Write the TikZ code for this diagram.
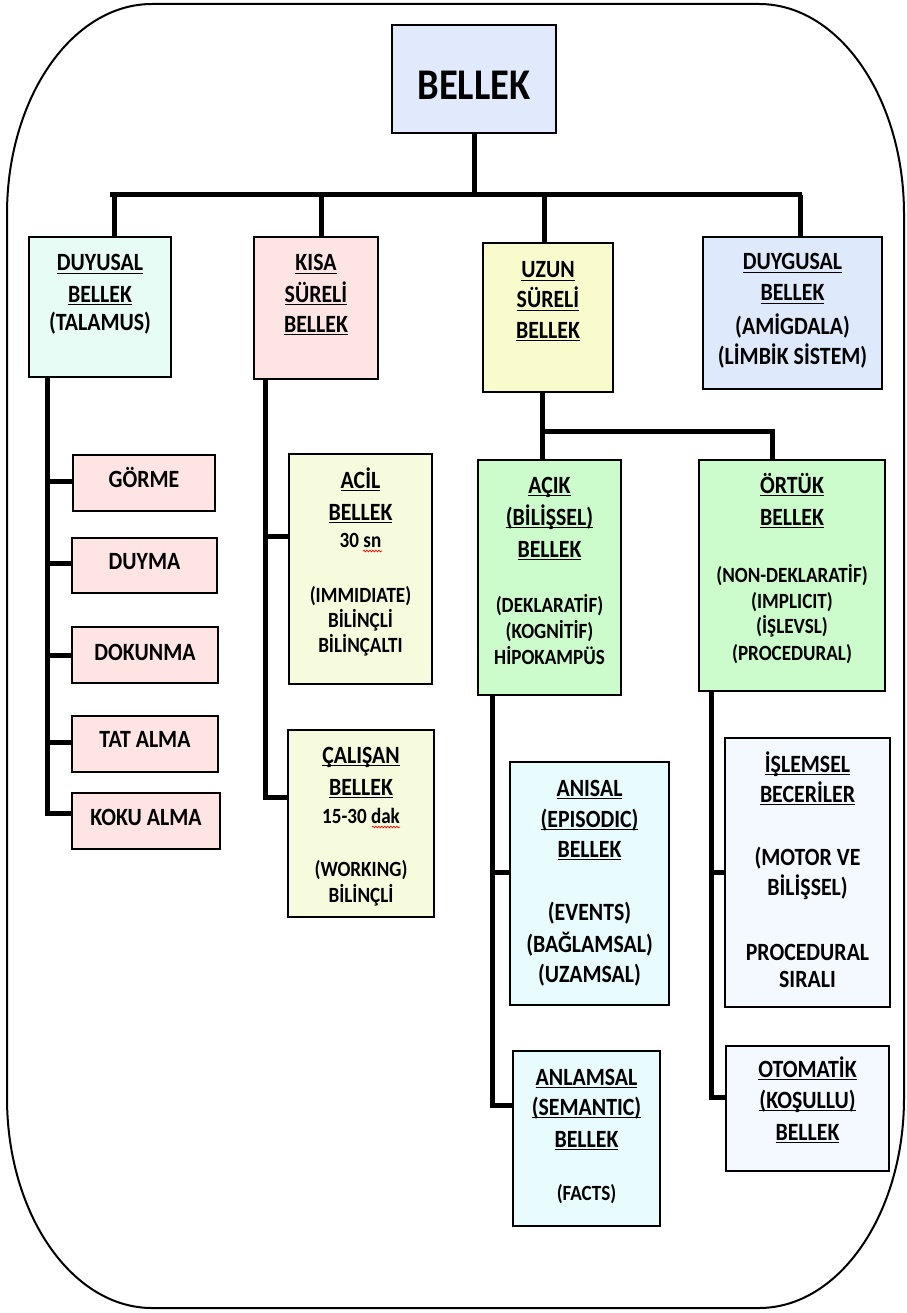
\documentclass[tikz,border=0pt]{standalone}
\usepackage{fontspec}
\setmainfont{Carlito}[FakeStretch=0.88]
\usetikzlibrary{decorations.pathmorphing}

\definecolor{cTitle}{RGB}{224,234,252}
\definecolor{cMint}{RGB}{231,252,245}
\definecolor{cPink}{RGB}{255,228,228}
\definecolor{cYel}{RGB}{250,251,205}
\definecolor{cBlue}{RGB}{222,233,251}
\definecolor{cLime}{RGB}{246,251,221}
\definecolor{cGreen}{RGB}{204,252,204}
\definecolor{cCyan}{RGB}{232,251,253}
\definecolor{cPale}{RGB}{244,249,255}

% font sizes
\newcommand\fhd{\fontsize{24.8}{29}\selectfont}
\newcommand\fsm{\fontsize{21.7}{25}\selectfont}
\newcommand\fttl{\fontsize{43.8}{50}\selectfont}

% underline sitting just below the baseline
\newcommand\ul[1]{\leavevmode\setbox0=\hbox{#1}\rlap{\rule[-3.4pt]{\wd0}{1.5pt}}\box0}

% box from corner (x1,y1) to corner (x2,y2)
\newcommand\mkbox[6]{%
  \pgfmathsetmacro\bw{#4-#2}\pgfmathsetmacro\bh{#5-#3}%
  \node[bx, fill=#6, minimum width=\bw pt, minimum height=\bh pt] (#1) at ({(#2+#4)/2},{(#3+#5)/2}) {};}

% centred text lines: name, centre x, list of text/baseline
\newcommand\txtlines[3]{\foreach \s/\yy [count=\k] in {#3} {\node[txt] (#1-\k) at (#2,\yy) {\s};}}

\begin{document}
\begin{tikzpicture}[x=1pt,y=-1pt,
  bx/.style={draw=black, line width=2.6pt, inner sep=0pt},
  conn/.style={line width=5pt},
  frame/.style={line width=2pt},
  txt/.style={anchor=base, inner sep=0pt, font=\bfseries},
]
\useasboundingbox (0,0) rectangle (906,1313);

% outer rounded frame
\draw[frame] (152,4) -- (759,4) .. controls (839,4) and (904,98) .. (904,214)
  -- (904,1098) .. controls (904,1214) and (839,1308) .. (759,1308)
  -- (152,1308) .. controls (72,1308) and (7,1214) .. (7,1098)
  -- (7,214) .. controls (7,98) and (72,4) .. (152,4) -- cycle;

% boxes
\mkbox{bellek}{392}{25}{556}{133}{cTitle}
\mkbox{duyusal}{29}{237}{171}{377}{cMint}
\mkbox{kisa}{254}{237}{378}{379}{cPink}
\mkbox{uzun}{483}{243}{613}{392}{cYel}
\mkbox{duygusal}{703}{237}{882}{389}{cBlue}
\mkbox{gorme}{73}{455}{215}{511}{cPink}
\mkbox{duyma}{72}{538}{217}{593}{cPink}
\mkbox{dokunma}{72}{627}{218}{683}{cPink}
\mkbox{tat}{72}{716}{218}{772}{cPink}
\mkbox{koku}{72}{793}{220}{849}{cPink}
\mkbox{acil}{289}{454}{432}{684}{cLime}
\mkbox{calisan}{288}{730}{434}{917}{cLime}
\mkbox{acik}{478}{460}{621}{695}{cGreen}
\mkbox{ortuk}{699}{460}{885}{691}{cGreen}
\mkbox{anisal}{510}{762}{669}{1005}{cCyan}
\mkbox{anlamsal}{513}{1051}{660}{1226}{cCyan}
\mkbox{islemsel}{725}{738}{890}{1007}{cPale}
\mkbox{otomatik}{726}{1046}{889}{1171}{cPale}

% top level tree
\coordinate (barL) at (110,195);
\coordinate (barR) at (802,195);
\coordinate (d1) at (114,195);
\coordinate (d2) at (321,195);
\coordinate (d3) at (544,195);
\coordinate (d4) at (800,195);
\draw[conn] (bellek.south) -- (bellek.south |- barL);
\draw[conn] (barL) -- (barR);
\draw[conn] (d1) -- (d1 |- duyusal.north);
\draw[conn] (d2) -- (d2 |- kisa.north);
\draw[conn] (d3) -- (d3 |- uzun.north);
\draw[conn] (d4) -- (d4 |- duygusal.north);

% senses
\coordinate (s1) at (47,0);
\draw[conn] (s1 |- duyusal.south) |- ([yshift=8pt]koku.west);
\draw[conn] ([yshift=2pt]gorme.west) -- ([yshift=2pt]gorme.west -| s1);
\draw[conn] ([yshift=2.5pt]duyma.west) -- ([yshift=2.5pt]duyma.west -| s1);
\draw[conn] (dokunma.west) -- (dokunma.west -| s1);
\draw[conn] ([yshift=2pt]tat.west) -- ([yshift=2pt]tat.west -| s1);

% short term
\coordinate (s2) at (265,0);
\draw[conn] (s2 |- kisa.south) |- ([yshift=26.5pt]calisan.west);
\draw[conn] ([yshift=33pt]acil.west) -- ([yshift=33pt]acil.west -| s2);

% long term
\coordinate (u1) at (542,431);
\coordinate (u2) at (772,431);
\draw[conn] (u1 |- uzun.south) -- (u1) -- (u2) -- (u2 |- ortuk.north);
\draw[conn] (u1) -- (u1 |- acik.north);

\coordinate (s3) at (492,0);
\draw[conn] (s3 |- acik.south) |- ([yshift=33.5pt]anlamsal.west);
\draw[conn] ([yshift=11.5pt]anisal.west) -- ([yshift=11.5pt]anisal.west -| s3);

\coordinate (s4) at (711,0);
\draw[conn] (s4 |- ortuk.south) |- ([yshift=11.5pt]otomatik.west);
\draw[conn] (islemsel.west) -- (islemsel.west -| s4);

% texts
\node[txt] (t-bellek) at (474,100) {\fttl BELLEK};
\txtlines{t-duyusal}{100}{{\fhd\ul{DUYUSAL}}/271, {\fhd\ul{BELLEK}}/302, {\fhd(TALAMUS)}/330}
\txtlines{t-kisa}{316}{{\fhd\ul{KISA}}/271, {\fhd\ul{SÜRELİ}}/302, {\fhd\ul{BELLEK}}/332}
\txtlines{t-uzun}{548}{{\fhd\ul{UZUN}}/278, {\fhd\ul{SÜRELİ}}/308, {\fhd\ul{BELLEK}}/338}
\txtlines{t-duygusal}{792.5}{{\fhd\ul{DUYGUSAL}}/270, {\fhd\ul{BELLEK}}/301, {\fhd(AMİGDALA)}/334, {\fhd(LİMBİK SİSTEM)}/364}

\node[txt] (t-gorme) at (144,487) {\fhd GÖRME};
\node[txt] (t-duyma) at (144.5,569) {\fhd DUYMA};
\node[txt] (t-dokunma) at (145,660) {\fhd DOKUNMA};
\node[txt] (t-tat) at (145,747) {\fhd TAT ALMA};
\node[txt] (t-koku) at (146,825) {\fhd KOKU ALMA};

\txtlines{t-acil}{360.5}{{\fhd\ul{ACİL}}/488, {\fhd\ul{BELLEK}}/520, {\fsm 30 sn}/547, {\fsm(IMMIDIATE)}/602, {\fsm BİLİNÇLİ}/627, {\fsm BİLİNÇALTI}/652}
\txtlines{t-calisan}{361}{{\fhd\ul{ÇALIŞAN}}/763, {\fhd\ul{BELLEK}}/795, {\fsm 15-30 dak}/823, {\fsm(WORKING)}/876, {\fsm BİLİNÇLİ}/902}

\txtlines{t-acik}{549.5}{{\fhd\ul{AÇIK}}/493, {\fhd\ul{(BİLİŞSEL)}}/525, {\fhd\ul{BELLEK}}/557, {\fsm(DEKLARATİF)}/612, {\fsm(KOGNİTİF)}/638, {\fsm HİPOKAMPÜS}/664}
\txtlines{t-ortuk}{792}{{\fhd\ul{ÖRTÜK}}/493, {\fhd\ul{BELLEK}}/525, {\fsm(NON-DEKLARATİF)}/582, {\fsm(IMPLICIT)}/608, {\fsm(İŞLEVSL)}/633, {\fsm(PROCEDURAL)}/660}

\txtlines{t-anisal}{589.5}{{\fhd\ul{ANISAL}}/796, {\fhd\ul{(EPISODIC)}}/827, {\fhd\ul{BELLEK}}/857, {\fhd(EVENTS)}/920, {\fhd(BAĞLAMSAL)}/952, {\fhd(UZAMSAL)}/982}
\txtlines{t-anlamsal}{586.5}{{\fhd\ul{ANLAMSAL}}/1085, {\fhd\ul{(SEMANTIC)}}/1115, {\fhd\ul{BELLEK}}/1147, {\fsm(FACTS)}/1200}
\txtlines{t-islemsel}{807.5}{{\fhd\ul{İŞLEMSEL}}/772, {\fhd\ul{BECERİLER}}/802, {\fhd(MOTOR VE}/865, {\fhd BİLİŞSEL)}/895, {\fhd PROCEDURAL}/960, {\fhd SIRALI}/987}
\txtlines{t-otomatik}{807.5}{{\fhd\ul{OTOMATİK}}/1077, {\fhd\ul{(KOŞULLU)}}/1108, {\fhd\ul{BELLEK}}/1140}

% spelling marks under the abbreviations
\draw[red, line width=0.7pt, decorate, decoration={snake, amplitude=0.8pt, segment length=3pt}]
  (363,551) -- (382,551);
\draw[red, line width=0.7pt, decorate, decoration={snake, amplitude=0.8pt, segment length=3pt}]
  (372,827) -- (400,827);
\end{tikzpicture}
\end{document}
